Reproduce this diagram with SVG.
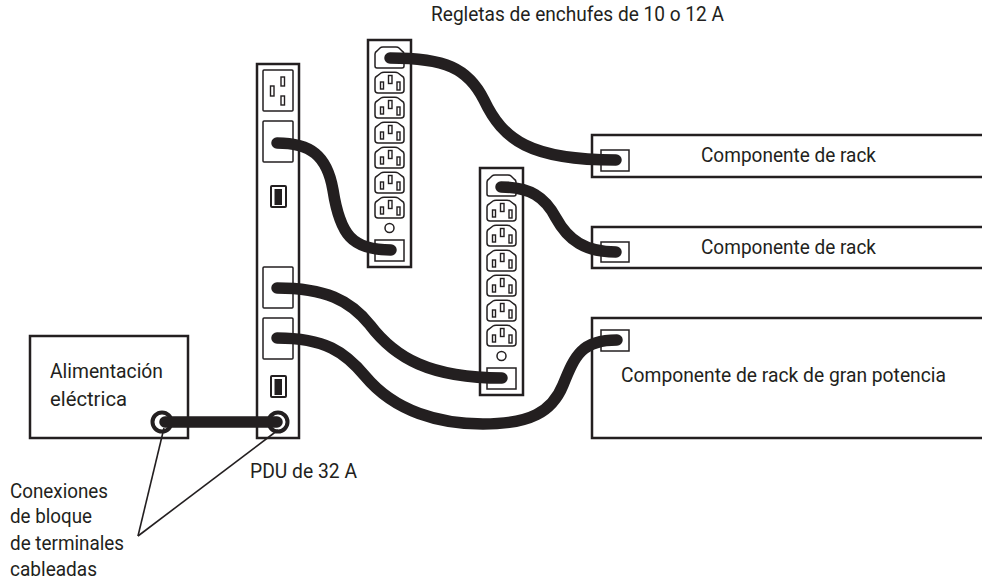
<svg xmlns="http://www.w3.org/2000/svg" width="982" height="585" viewBox="0 0 982 585">
<style>
.b{fill:#fff;stroke:#231f20;stroke-width:2.5}
.o{fill:#fff;stroke:#231f20;stroke-width:1.5}
.p{fill:#fff;stroke:#231f20;stroke-width:1.4}
.r{fill:#fff;stroke:#231f20;stroke-width:4}
.c{fill:none;stroke:#231f20;stroke-width:11.5;stroke-linecap:round}
.l{fill:none;stroke:#231f20;stroke-width:1.6}
text{font-family:"Roboto","Liberation Sans",sans-serif;font-size:20px;fill:#231f20}
</style>
<defs>
<g id="outlet">
<path class="o" d="M0 7Q0 5 2 4L6 1Q7 0.300 9 0.300H20Q22 0.300 23 1L27 4Q29 5 29 7V18Q29 21 26 21H3Q0 21 0 18Z"/>
<rect class="p" x="5.500" y="10" width="3" height="7"/>
<rect class="p" x="13.500" y="3.500" width="3.500" height="8"/>
<rect class="p" x="22" y="10" width="3" height="8"/>
</g>
<g id="strip">
<rect class="b" width="43" height="227"/>
<path class="o" d="M7 14Q7 12 9 11L12 8Q13 7 15 7H28Q30 7 31 8L34 11Q36 12 36 14V26Q36 28 34 28H9Q7 28 7 26Z"/>
<use href="#outlet" x="7" y="32"/>
<use href="#outlet" x="7" y="57"/>
<use href="#outlet" x="7" y="82"/>
<use href="#outlet" x="7" y="107"/>
<use href="#outlet" x="7" y="132"/>
<use href="#outlet" x="7" y="157"/>
<circle class="o" cx="21.500" cy="188" r="4.500"/>
<rect class="o" x="7" y="200" width="29" height="21"/>
</g>
<g id="sw">
<rect x="0" y="0" width="15" height="21" rx="1" fill="#fff" stroke="#231f20" stroke-width="2"/>
<rect x="3.500" y="3" width="7.500" height="16" fill="#231f20"/>
</g>
</defs>

<g id="strip-1"><use href="#strip" x="368" y="40"/></g>
<g id="strip-2"><use href="#strip" x="480" y="168"/></g>

<g id="pdu">
<rect class="b" x="257" y="64" width="42" height="374"/>
<rect class="o" x="263" y="70" width="30" height="41" rx="1"/>
<rect class="p" x="270.500" y="86" width="3.500" height="10"/>
<rect class="p" x="281" y="77" width="3.500" height="9"/>
<rect class="p" x="281" y="96" width="3.500" height="9"/>
<rect class="o" x="263" y="121" width="30" height="41" rx="1"/>
<rect class="o" x="263" y="267" width="30" height="41" rx="1"/>
<rect class="o" x="263" y="318" width="30" height="41" rx="1"/>
<use href="#sw" x="271" y="186"/>
<use href="#sw" x="271" y="376"/>
<circle class="r" cx="278" cy="422" r="9.500"/>
</g>

<g id="power">
<rect class="b" x="30" y="336" width="158" height="102"/>
<circle class="r" cx="162" cy="422" r="9.500"/>
<text x="50" y="378" textLength="113" lengthAdjust="spacingAndGlyphs">Alimentación</text>
<text x="50" y="406" textLength="77" lengthAdjust="spacingAndGlyphs">eléctrica</text>
</g>

<g id="rack-1">
<path class="b" d="M982 135H592V177H982"/>
<rect class="o" x="601" y="150" width="28" height="21"/>
<text x="701" y="162" textLength="175" lengthAdjust="spacingAndGlyphs">Componente de rack</text>
</g>
<g id="rack-2">
<path class="b" d="M982 227H592V268H982"/>
<rect class="o" x="601" y="242" width="28" height="20"/>
<text x="701" y="254" textLength="175" lengthAdjust="spacingAndGlyphs">Componente de rack</text>
</g>
<g id="rack-3">
<path class="b" d="M982 318H592V438H982"/>
<rect class="o" x="601" y="330" width="28" height="21"/>
<text x="621" y="382" textLength="325" lengthAdjust="spacingAndGlyphs">Componente de rack de gran potencia</text>
</g>

<g id="connectors">
<path class="c" d="M390 58C445 58 468 68 484 100C503 140 530 160 616 160"/>
<path class="c" d="M277 143C310 143 327 155 333 190C340 235 352 250 391 250"/>
<path class="c" d="M501 187C530 187 545 197 556 218C568 240 585 252 616 252"/>
<path class="c" d="M277 288C325 288 350 300 370 325C395 358 430 378 502 378"/>
<path class="c" d="M277 338C325 338 345 352 365 376C395 412 440 424 483 424C530 424 552 412 563 385C575 355 582 340 617 340"/>
<path class="c" d="M165 422H277"/>
<path class="l" d="M164 428L138 536"/>
<path class="l" d="M278 430L138 536"/>
</g>

<g id="labels">
<text x="431" y="21" textLength="293" lengthAdjust="spacingAndGlyphs">Regletas de enchufes de 10 o 12 A</text>
<text x="250" y="478" textLength="107" lengthAdjust="spacingAndGlyphs">PDU de 32 A</text>
<text x="10" y="498" textLength="98" lengthAdjust="spacingAndGlyphs">Conexiones</text>
<text x="10" y="523" textLength="82" lengthAdjust="spacingAndGlyphs">de bloque</text>
<text x="10" y="550" textLength="114" lengthAdjust="spacingAndGlyphs">de terminales</text>
<text x="10" y="576" textLength="87" lengthAdjust="spacingAndGlyphs">cableadas</text>
</g>
</svg>
